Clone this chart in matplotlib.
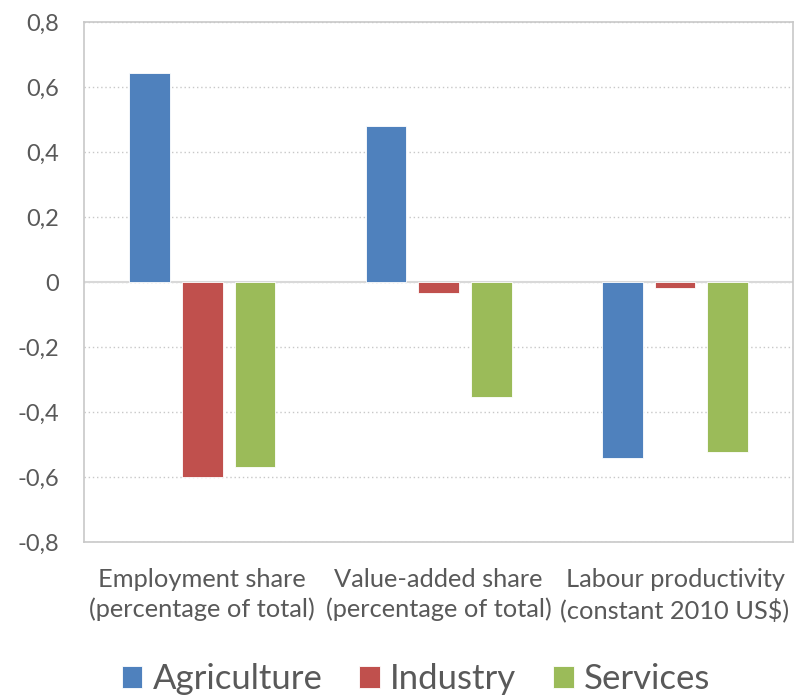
import numpy as np
import matplotlib.pyplot as plt
from matplotlib.ticker import FuncFormatter

plt.rcParams['font.family'] = ['Lato', 'DejaVu Sans']

# Data-
categories = ["Employment share\n(percentage of total)",
              "Value-added share\n(percentage of total)",
              "Labour productivity\n(constant 2010 US$)"]
agriculture = [0.643, 0.48, -0.54]
industry = [-0.60, -0.034, -0.018]
services = [-0.569, -0.354, -0.523]

series = [("Agriculture", agriculture, "#4F81BD"),
          ("Industry", industry, "#C0504D"),
          ("Services", services, "#9BBB59")]

fig = plt.figure(figsize=(7.94, 6.95), dpi=100)
ax = fig.add_axes([0.106, 0.22, 0.893, 0.748])

x = np.arange(len(categories))
width = 0.173
offsets = [-0.223, 0, 0.223]
for (name, vals, col), off in zip(series, offsets):
    ax.bar(x + off, vals, width, color=col, label=name, zorder=3,
           edgecolor="white", linewidth=0.6)

ax.set_xlim(-0.5, 2.5)
ax.set_ylim(-0.8, 0.8)
ax.set_yticks(np.arange(-0.8, 0.81, 0.2))
ax.yaxis.set_major_formatter(FuncFormatter(lambda v, p: "0" if abs(v) < 1e-9 else f"{v:.1f}".replace(".", ",")))
ax.grid(axis="y", linestyle=(0, (1, 2)), color="#C8C8C8", linewidth=1, zorder=0)
ax.axhline(0, color="#D9D9D9", linewidth=1.5, zorder=2)

for s in ax.spines.values():
    s.set_color("#C8C8C8")
    s.set_linewidth(1.2)

ax.set_xticks(x)
ax.set_xticklabels(categories, fontsize=18.3, color="#595959", linespacing=1.3)
ax.tick_params(axis="x", length=0, pad=19)
ax.tick_params(axis="y", length=0, labelsize=17, labelcolor="#595959", pad=18)

fig.legend(loc="lower center", ncol=3, bbox_to_anchor=(0.524, -0.045), frameon=False,
           fontsize=25, labelcolor="#595959", handlelength=0.6, handleheight=0.6,
           handletextpad=0.3, columnspacing=1.05)

fig.savefig("out.png", dpi=100)
